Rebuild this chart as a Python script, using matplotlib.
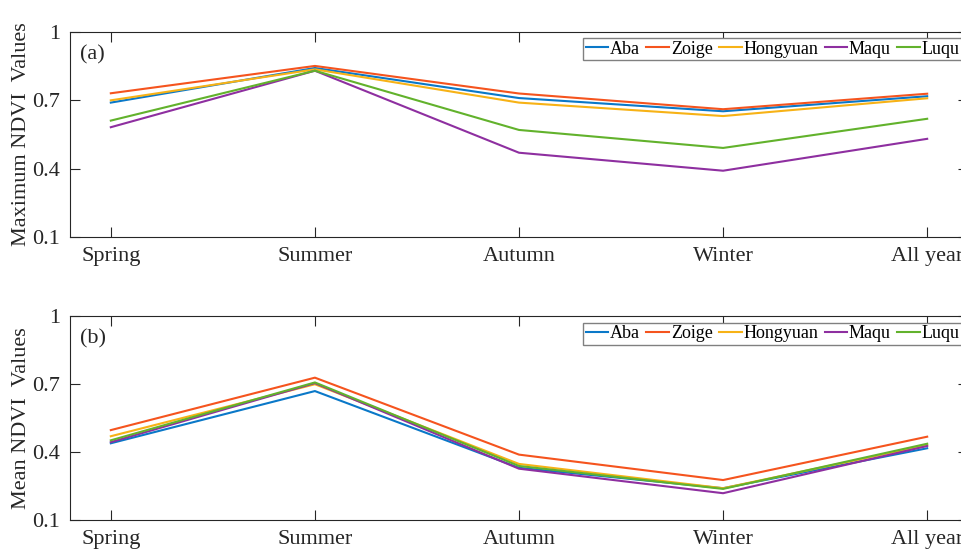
import matplotlib.pyplot as plt

plt.rcParams['font.family'] = ['Liberation Serif', 'DejaVu Serif']

seasons = ["Spring", "Summer", "Autumn", "Winter", "All year"]
stations = ["Aba", "Zoige", "Hongyuan", "Maqu", "Luqu"]
colors = ["#0a78c8", "#f5541e", "#f7b216", "#8e2fa0", "#62b22c"]

# maximum NDVI per season
max_aba = [0.690, 0.842, 0.710, 0.652, 0.718]
max_zoige = [0.731, 0.851, 0.730, 0.661, 0.729]
max_hongyuan = [0.700, 0.836, 0.690, 0.631, 0.709]
max_maqu = [0.582, 0.830, 0.470, 0.391, 0.531]
max_luqu = [0.611, 0.830, 0.570, 0.491, 0.619]

# mean NDVI per season
mean_aba = [0.438, 0.668, 0.330, 0.240, 0.416]
mean_zoige = [0.496, 0.727, 0.388, 0.276, 0.467]
mean_hongyuan = [0.469, 0.698, 0.347, 0.240, 0.430]
mean_maqu = [0.443, 0.703, 0.326, 0.218, 0.426]
mean_luqu = [0.451, 0.706, 0.338, 0.237, 0.436]

yticks = [0.1, 0.4, 0.7, 1.0]
ytick_labels = ["0.1", "0.4", "0.7", "1"]

fig = plt.figure(figsize=(9.61, 5.54), dpi=100)
ax1 = fig.add_axes([70 / 961, 1 - 237 / 554, 898 / 961, 205 / 554])
ax2 = fig.add_axes([70 / 961, 1 - 520 / 554, 898 / 961, 204.3 / 554])

panels = [
    (ax1, [max_aba, max_zoige, max_hongyuan, max_maqu, max_luqu],
     "Maximum NDVI  Values", "(a)", 1 - 38 / 554),
    (ax2, [mean_aba, mean_zoige, mean_hongyuan, mean_maqu, mean_luqu],
     "Mean NDVI  Values", "(b)", 1 - 322.7 / 554),
]

x = list(range(1, len(seasons) + 1))
for ax, series, ylabel, tag, leg_y in panels:
    for name, vals, c in zip(stations, series, colors):
        ax.plot(x, vals, color=c, linewidth=1.5, label=name)
    ax.set_xlim(0.8, 5.2)
    ax.set_ylim(0.1, 1.0)
    ax.set_xticks(x)
    ax.set_xticklabels(seasons)
    ax.set_yticks(yticks)
    ax.set_yticklabels(ytick_labels)
    ax.tick_params(direction="in", length=7, width=0.8, top=True, right=True,
                   labelsize=16, pad=7, colors="#262626")
    for sp in ax.spines.values():
        sp.set_color("#262626")
        sp.set_linewidth(0.8)
    ax.set_ylabel(ylabel, fontsize=16, labelpad=1, color="#262626")
    ax.text(0.85, 0.9, tag, fontsize=16, va="center", ha="left", color="#262626")
    leg = ax.legend(loc="upper left", bbox_to_anchor=(583 / 961, leg_y),
                    bbox_transform=fig.transFigure, ncol=5, fontsize=13,
                    frameon=True, fancybox=False, framealpha=1,
                    handlelength=1.25, handletextpad=0.1, columnspacing=0.35,
                    borderpad=0.15, borderaxespad=0)
    leg.get_frame().set_edgecolor("#808080")
    leg.get_frame().set_linewidth(1.0)

fig.savefig("out.png", dpi=100)
